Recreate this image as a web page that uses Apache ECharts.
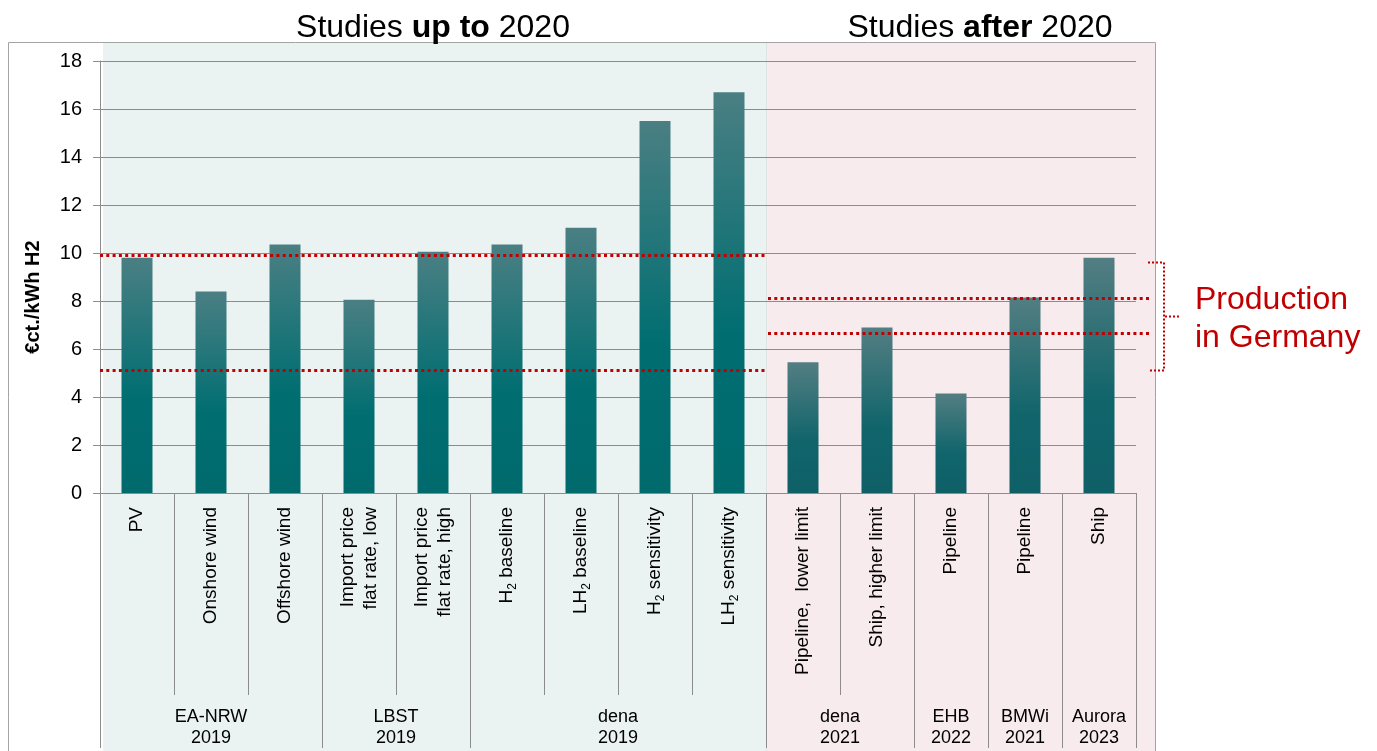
<!DOCTYPE html>
<html>
<head>
<meta charset="utf-8">
<script src="https://cdn.jsdelivr.net/npm/echarts@6/dist/echarts.min.js"></script>
<style>
  html, body { margin: 0; padding: 0; background: #ffffff; }
  #chart { width: 1377px; height: 751px; }
</style>
</head>
<body>
<div id="chart"></div>
<script>
// Hydrogen import cost estimates by study (€ct./kWh H2)
const categories = [
  'PV', 'Onshore wind', 'Offshore wind',
  'Import price\nflat rate, low', 'Import price\nflat rate, high',
  'H2 baseline', 'LH2 baseline', 'H2 sensitivity', 'LH2 sensitivity',
  'Pipeline,  lower limit', 'Ship, higher limit',
  'Pipeline', 'Pipeline', 'Ship'
];
const costValues = [9.8, 8.4, 10.35, 8.05, 10.05, 10.35, 11.05, 15.5, 16.7, 5.45, 6.9, 4.15, 8.15, 9.8];

// Studies (second axis row) and how many bars each covers
const groupLabels = ['EA-NRW\n2019', 'LBST\n2019', 'dena\n2019', 'dena\n2021', 'EHB\n2022', 'BMWi\n2021', 'Aurora\n2023'];
const groupSizes = [3, 2, 4, 2, 1, 1, 1];
const groupsUpTo2020 = 3; // first three studies are from 2020 or earlier

// Domestic production cost range (dotted red lines)
const domesticRangeEarly = [5.1, 9.9];
const domesticRangeLate = [6.65, 8.1];
const bracketRange = [5.1, 9.6];

const yTicks = { min: 0, max: 18, interval: 2 };

const FONT = '"Liberation Sans", Arial, sans-serif';
const RED = '#c00000';
const GRID_GRAY = '#8c8c8c';

// group boundaries & centres in bar-band units
const boundaries = [0];
groupSizes.forEach(s => boundaries.push(boundaries[boundaries.length - 1] + s));
const centres = groupSizes.map((s, i) => boundaries[i] + s / 2);
const eraSplit = boundaries[groupsUpTo2020];
const nCat = categories.length;

const gradEarly = new echarts.graphic.LinearGradient(0, 0, 0, 1, [
  { offset: 0, color: '#4a7f83' },
  { offset: 0.6, color: '#006e71' },
  { offset: 1, color: '#006a6d' }
]);
const gradLate = new echarts.graphic.LinearGradient(0, 0, 0, 1, [
  { offset: 0, color: '#537e82' },
  { offset: 0.6, color: '#10656b' },
  { offset: 1, color: '#0f5f67' }
]);

const chart = echarts.init(document.getElementById('chart'), null, { renderer: 'canvas' });

const option = {
  animation: false,
  backgroundColor: '#ffffff',
  textStyle: { fontFamily: FONT },
  grid: { left: 100, right: 241, top: 61, bottom: 258, containLabel: false },
  xAxis: [
    {
      type: 'category',
      data: categories,
      boundaryGap: true,
      axisLine: { show: true, lineStyle: { color: GRID_GRAY, width: 1 } },
      axisTick: { show: true, interval: 0, length: 202, lineStyle: { color: GRID_GRAY, width: 1 } },
      axisLabel: {
        interval: 0,
        rotate: 90,
        margin: 14,
        color: '#000000',
        fontSize: 19,
        lineHeight: 23,
        fontFamily: FONT,
        formatter: v => v.replace(/H2/g, 'H{s|2}'),
        rich: {
          s: { fontSize: 12, fontFamily: FONT, color: '#000000', verticalAlign: 'bottom', lineHeight: 14 }
        }
      },
      splitLine: { show: false }
    },
    {
      type: 'value',
      min: 0,
      max: nCat,
      position: 'bottom',
      axisLine: { show: false },
      axisTick: { show: true, customValues: boundaries, length: 255, lineStyle: { color: GRID_GRAY, width: 1 } },
      axisLabel: {
        show: true,
        customValues: centres,
        margin: 214,
        color: '#000000',
        fontSize: 18,
        lineHeight: 21,
        fontFamily: FONT,
        formatter: v => {
          const i = centres.findIndex(c => Math.abs(c - v) < 1e-6);
          return i >= 0 ? groupLabels[i] : '';
        }
      },
      splitLine: { show: false }
    }
  ],
  yAxis: {
    type: 'value',
    min: yTicks.min,
    max: yTicks.max,
    interval: yTicks.interval,
    axisLine: { show: true, lineStyle: { color: GRID_GRAY, width: 1 } },
    axisTick: { show: true, length: 7, lineStyle: { color: GRID_GRAY, width: 1 } },
    axisLabel: { color: '#000000', fontSize: 20, margin: 18, fontFamily: FONT },
    splitLine: { show: true, lineStyle: { color: GRID_GRAY, width: 1 } }
  },
  series: [
    {
      name: 'Cost',
      type: 'bar',
      xAxisIndex: 0,
      yAxisIndex: 0,
      barWidth: 31,
      z: 3,
      data: costValues.map((v, i) => ({
        value: v,
        itemStyle: { color: i < eraSplit ? gradEarly : gradLate }
      }))
    }
  ]
};

chart.setOption(option);

// Background panels, frame, headings and the dotted range lines placed from the axis scales
const px = v => chart.convertToPixel({ xAxisIndex: 1 }, v);
const py = v => chart.convertToPixel({ yAxisIndex: 0 }, v);
const xLeft = px(0);
const xSplit = px(eraSplit);
const xRight = px(nCat);
const midUpTo = (xLeft + xSplit) / 2;

function dotted(points, width, dash) {
  return {
    type: 'polyline', z: 10, silent: true,
    shape: { points: points },
    style: { stroke: RED, lineWidth: width, lineDash: dash, fill: null, lineCap: 'butt' }
  };
}

const yBrTop = py(bracketRange[1]);
const yBrBot = py(bracketRange[0]);
const yBrMid = (yBrTop + yBrBot) / 2;

chart.setOption({
  graphic: [
    {
      type: 'rect', z: -20, silent: true,
      shape: { x: xLeft + 3, y: 43, width: xSplit - xLeft - 2, height: 720 },
      style: { fill: '#ebf3f2' }
    },
    {
      type: 'rect', z: -20, silent: true,
      shape: { x: xSplit + 2, y: 43, width: 1155 - xSplit - 2, height: 720 },
      style: { fill: '#f7ebed' }
    },
    {
      type: 'rect', z: -19, silent: true,
      shape: { x: xSplit, y: 43, width: 1.5, height: 720 },
      style: { fill: '#dfe4e3' }
    },
    {
      type: 'rect', z: -18, silent: true,
      shape: { x: 8.5, y: 42.5, width: 1147, height: 730 },
      style: { fill: 'none', stroke: '#a4a4a4', lineWidth: 1 }
    },
    dotted([[xLeft, py(domesticRangeEarly[1])], [xSplit, py(domesticRangeEarly[1])]], 3, [3, 3.3]),
    dotted([[xLeft, py(domesticRangeEarly[0])], [xSplit, py(domesticRangeEarly[0])]], 3, [3, 3.3]),
    dotted([[xSplit + 2, py(domesticRangeLate[1])], [xRight + 14, py(domesticRangeLate[1])]], 3, [3, 3.3]),
    dotted([[xSplit + 2, py(domesticRangeLate[0])], [xRight + 14, py(domesticRangeLate[0])]], 3, [3, 3.3]),
    dotted([[xRight + 12, yBrTop], [xRight + 28, yBrTop], [xRight + 28, yBrBot], [xRight + 12, yBrBot]], 2, [2, 2]),
    dotted([[xRight + 29, yBrMid], [xRight + 45, yBrMid]], 2, [2, 2]),
    {
      type: 'text', z: 10, silent: true,
      style: {
        x: midUpTo, y: 12, align: 'center', verticalAlign: 'top',
        text: '{n|Studies }{b|up to}{n| 2020}',
        rich: {
          n: { fontSize: 32, fontFamily: FONT, fill: '#000000' },
          b: { fontSize: 32, fontFamily: FONT, fontWeight: 'bold', fill: '#000000' }
        }
      }
    },
    {
      type: 'text', z: 10, silent: true,
      style: {
        x: 980, y: 12, align: 'center', verticalAlign: 'top',
        text: '{n|Studies }{b|after}{n| 2020}',
        rich: {
          n: { fontSize: 32, fontFamily: FONT, fill: '#000000' },
          b: { fontSize: 32, fontFamily: FONT, fontWeight: 'bold', fill: '#000000' }
        }
      }
    },
    {
      type: 'text', z: 10, silent: true,
      style: {
        x: 1195, y: 281, align: 'left', verticalAlign: 'top',
        text: 'Production\nin Germany',
        fontSize: 32, lineHeight: 38, fontFamily: FONT, fill: RED
      }
    },
    {
      type: 'text', z: 10, silent: true,
      x: 33, y: 297, rotation: Math.PI / 2,
      style: {
        x: 0, y: 0, align: 'center', verticalAlign: 'middle',
        text: '€ct./kWh H2',
        fontSize: 20, fontWeight: 'bold', fontFamily: FONT, fill: '#000000'
      }
    }
  ]
});
</script>
</body>
</html>
